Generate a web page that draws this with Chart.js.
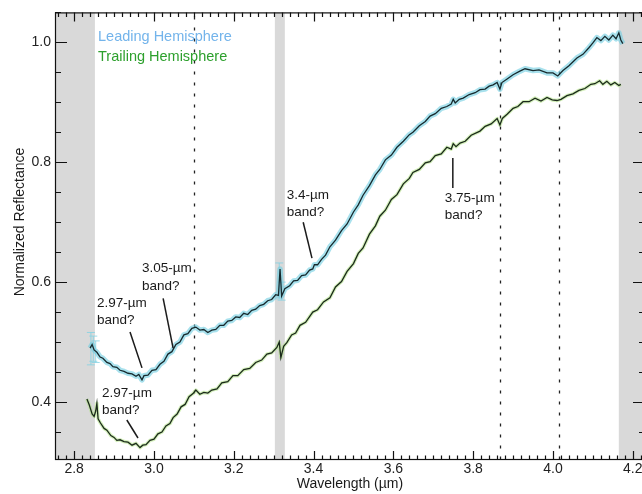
<!DOCTYPE html>
<html>
<head>
<meta charset="utf-8">
<script src="https://cdn.jsdelivr.net/npm/chart.js@4/dist/chart.umd.min.js"></script>
<style>
html,body{margin:0;padding:0;background:#fff;overflow:hidden;width:642px;height:494px;}
#wrap{position:absolute;left:0;top:0;width:646px;height:494px;}
</style>
</head>
<body>
<div id="wrap"><canvas id="c" width="646" height="494"></canvas></div>
<script>
// ---------------- data ----------------
const seriesNames = ['Leading Hemisphere', 'Trailing Hemisphere'];

const leadWl = [2.840,2.845,2.850,2.857,2.865,2.872,2.882,2.890,2.897,2.907,2.915,2.925,2.935,2.945,2.955,2.962,2.970,2.975,2.985,2.995,
3.005,3.015,3.025,3.035,3.045,3.055,3.065,3.075,3.085,3.095,3.105,3.115,3.125,3.135,3.145,3.155,3.165,3.175,3.185,3.195,
3.205,3.215,3.225,3.235,3.245,3.255,3.265,3.275,3.285,3.295,3.305,3.312,3.316,3.320,3.328,3.340,3.350,3.360,3.370,3.380,
3.390,3.398,3.402,3.410,3.420,3.430,3.441,3.455,3.470,3.484,3.500,3.512,3.524,3.540,3.555,3.566,3.580,3.595,3.609,3.625,
3.640,3.649,3.665,3.680,3.692,3.705,3.720,3.734,3.745,3.750,3.755,3.765,3.775,3.790,3.805,3.817,3.830,3.840,3.850,3.860,
3.867,3.872,3.885,3.900,3.917,3.930,3.950,3.965,3.985,4.000,4.012,4.025,4.040,4.060,4.075,4.090,4.100,4.110,4.120,4.130,
4.140,4.150,4.158,4.165,4.170,4.175];
const leadVal = [0.490,0.496,0.487,0.483,0.475,0.473,0.466,0.464,0.459,0.458,0.453,0.451,0.448,0.447,0.443,0.446,0.437,0.444,0.445,0.453,
0.454,0.463,0.468,0.480,0.484,0.496,0.500,0.512,0.514,0.523,0.525,0.520,0.521,0.516,0.520,0.521,0.528,0.528,0.535,0.536,
0.542,0.541,0.548,0.546,0.553,0.555,0.561,0.563,0.569,0.571,0.579,0.578,0.622,0.577,0.589,0.594,0.602,0.603,0.611,0.612,
0.620,0.622,0.629,0.629,0.638,0.645,0.659,0.670,0.686,0.697,0.717,0.729,0.745,0.761,0.779,0.788,0.804,0.812,0.825,0.835,
0.846,0.850,0.861,0.868,0.877,0.881,0.890,0.893,0.897,0.905,0.899,0.905,0.907,0.913,0.916,0.921,0.922,0.927,0.929,0.933,
0.922,0.933,0.939,0.946,0.952,0.956,0.953,0.954,0.949,0.949,0.944,0.953,0.961,0.974,0.980,0.991,0.999,1.008,1.003,1.010,
1.004,1.012,1.006,1.016,1.004,0.998];

const trailWl = [2.832,2.838,2.845,2.850,2.854,2.857,2.860,2.866,2.875,2.882,2.892,2.900,2.907,2.915,2.925,2.935,2.945,2.955,2.965,2.972,
2.980,2.990,3.000,3.010,3.020,3.030,3.040,3.048,3.058,3.068,3.078,3.088,3.098,3.105,3.115,3.125,3.135,3.145,3.158,3.170,
3.185,3.198,3.210,3.225,3.240,3.255,3.270,3.283,3.295,3.308,3.314,3.318,3.325,3.333,3.345,3.355,3.366,3.380,3.398,3.410,
3.425,3.441,3.455,3.470,3.484,3.500,3.512,3.524,3.540,3.555,3.566,3.580,3.595,3.609,3.625,3.640,3.649,3.665,3.680,3.692,
3.705,3.720,3.734,3.745,3.750,3.757,3.767,3.780,3.795,3.817,3.830,3.845,3.860,3.867,3.873,3.885,3.900,3.912,3.925,3.940,
3.955,3.970,3.985,3.998,4.010,4.020,4.035,4.050,4.065,4.080,4.095,4.105,4.117,4.125,4.135,4.145,4.155,4.165,4.170];
const trailVal = [0.405,0.395,0.380,0.376,0.385,0.398,0.372,0.365,0.356,0.353,0.344,0.341,0.336,0.337,0.334,0.333,0.328,0.331,0.324,0.328,
0.329,0.336,0.338,0.347,0.350,0.360,0.364,0.374,0.380,0.392,0.396,0.409,0.414,0.420,0.413,0.416,0.415,0.420,0.422,0.432,
0.434,0.444,0.444,0.454,0.456,0.466,0.470,0.480,0.482,0.491,0.500,0.474,0.493,0.499,0.512,0.515,0.528,0.533,0.550,0.554,
0.567,0.574,0.592,0.601,0.618,0.631,0.648,0.657,0.680,0.694,0.710,0.720,0.738,0.746,0.764,0.773,0.783,0.788,0.799,0.801,
0.811,0.814,0.825,0.822,0.831,0.826,0.832,0.835,0.845,0.852,0.860,0.864,0.873,0.862,0.873,0.880,0.890,0.893,0.901,0.901,
0.907,0.902,0.908,0.904,0.903,0.905,0.911,0.914,0.920,0.923,0.930,0.931,0.936,0.930,0.935,0.929,0.933,0.928,0.930];

// error bars near the start of the leading spectrum and at the 3.32 spike
const errWl = [2.842, 2.848, 2.854, 3.314, 3.320];
const errLo = [0.462, 0.468, 0.466, 0.572, 0.570];
const errHi = [0.516, 0.510, 0.502, 0.632, 0.600];

// axis ticks
const xTickVals = [2.8, 3.0, 3.2, 3.4, 3.6, 3.8, 4.0, 4.2];
const yTickVals = [0.4, 0.6, 0.8, 1.0];

// masked (gray) wavelength regions and dotted reference lines
const bandStart = [2.70, 3.303, 4.165];
const bandEnd   = [2.852, 3.328, 4.30];
const refLines  = [3.10, 3.867, 4.015];

// annotation labels
const noteText = [['2.97-\u00b5m','band?'], ['3.05-\u00b5m','band?'], ['2.97-\u00b5m','band?'], ['3.4-\u00b5m','band?'], ['3.75-\u00b5m','band?']];
const noteX    = [2.857, 2.970, 2.870, 3.333, 3.729];
const noteY    = [0.565, 0.623, 0.415, 0.745, 0.740];
const noteLine = [[2.940,0.517,2.970,0.457],[3.023,0.573,3.048,0.490],[2.932,0.370,2.960,0.340],[3.374,0.700,3.396,0.640],[3.749,0.807,3.749,0.757]];

const xAxisTitle = 'Wavelength (\u00b5m)';
const yAxisTitle = 'Normalized Reflectance';

// ---------------- chart ----------------
const FONT = "'Liberation Sans', Arial, Helvetica, sans-serif";
const toPts = (xs, ys) => xs.map((x, i) => ({x: x, y: ys[i]}));

const decor = {
  id: 'decor',
  beforeDatasetsDraw(chart) {
    const {ctx, chartArea: a, scales: {x, y}} = chart;
    ctx.save();
    ctx.beginPath(); ctx.rect(a.left, a.top, a.right - a.left, a.bottom - a.top); ctx.clip();
    ctx.fillStyle = '#d9d9d9';
    bandStart.forEach((s, i) => {
      const x0 = x.getPixelForValue(s), x1 = x.getPixelForValue(bandEnd[i]);
      ctx.fillRect(x0, a.top, x1 - x0, a.bottom - a.top);
    });
    ctx.strokeStyle = '#222'; ctx.lineWidth = 1.3; ctx.setLineDash([3, 8]);
    refLines.forEach(v => {
      const px = Math.round(x.getPixelForValue(v)) + 0.5;
      ctx.beginPath(); ctx.moveTo(px, a.top + 4); ctx.lineTo(px, a.bottom); ctx.stroke();
    });
    ctx.setLineDash([]);
    // error bars
    ctx.strokeStyle = 'rgba(130,210,228,0.8)'; ctx.lineWidth = 1;
    errWl.forEach((w, i) => {
      const px = x.getPixelForValue(w), p0 = y.getPixelForValue(errLo[i]), p1 = y.getPixelForValue(errHi[i]);
      ctx.beginPath(); ctx.moveTo(px, p0); ctx.lineTo(px, p1);
      ctx.moveTo(px - 4, p0); ctx.lineTo(px + 4, p0);
      ctx.moveTo(px - 4, p1); ctx.lineTo(px + 4, p1);
      ctx.stroke();
    });
    ctx.restore();
  },
  afterDatasetsDraw(chart) {
    const {ctx, chartArea: a, scales: {x, y}} = chart;
    ctx.save();
    // frame
    ctx.strokeStyle = '#111'; ctx.lineWidth = 1.2;
    ctx.strokeRect(a.left + 0.5, a.top + 0.5, a.right - a.left - 1, a.bottom - a.top - 1);
    // x ticks (bottom & top, inward)
    ctx.beginPath();
    for (let k = 138; k <= 211; k++) {
      const v = k / 50;
      const px = Math.round(x.getPixelForValue(v)) + 0.5;
      if (px < a.left || px > a.right) continue;
      const major = xTickVals.some(t => Math.abs(t - v) < 1e-6);
      const L = major ? 9 : 4.5;
      ctx.moveTo(px, a.bottom); ctx.lineTo(px, a.bottom - L);
      ctx.moveTo(px, a.top); ctx.lineTo(px, a.top + L);
    }
    // y ticks (left & right, inward)
    for (let k = 7; k <= 21; k++) {
      const v = k / 20;
      const py = Math.round(y.getPixelForValue(v)) + 0.5;
      if (py < a.top || py > a.bottom) continue;
      const major = yTickVals.some(t => Math.abs(t - v) < 1e-6);
      const L = major ? 12 : 6;
      ctx.moveTo(a.left, py); ctx.lineTo(a.left + L, py);
      ctx.moveTo(a.right, py); ctx.lineTo(a.right - L, py);
    }
    ctx.stroke();
    // legend
    ctx.font = '14.5px ' + FONT; ctx.textBaseline = 'middle'; ctx.textAlign = 'left';
    ctx.fillStyle = 'rgb(115,180,235)'; ctx.fillText(seriesNames[0], 98, 37);
    ctx.fillStyle = 'rgb(45,160,45)'; ctx.fillText(seriesNames[1], 98, 57);
    // annotations
    ctx.fillStyle = '#1a1a1a'; ctx.strokeStyle = '#1a1a1a'; ctx.lineWidth = 1.5;
    ctx.font = '13.5px ' + FONT;
    noteText.forEach((lines, i) => {
      const px = x.getPixelForValue(noteX[i]), py = y.getPixelForValue(noteY[i]);
      lines.forEach((t, j) => ctx.fillText(t, px, py + j * 17.5));
      const l = noteLine[i];
      ctx.beginPath();
      ctx.moveTo(x.getPixelForValue(l[0]), y.getPixelForValue(l[1]));
      ctx.lineTo(x.getPixelForValue(l[2]), y.getPixelForValue(l[3]));
      ctx.stroke();
    });
    // axis titles
    ctx.fillStyle = '#1a1a1a'; ctx.font = '14px ' + FONT; ctx.textAlign = 'center';
    ctx.fillText(xAxisTitle, 350, 484);
    ctx.translate(20, 222); ctx.rotate(-Math.PI / 2);
    ctx.fillText(yAxisTitle, 0, 0);
    ctx.restore();
  }
};

new Chart(document.getElementById('c'), {
  type: 'scatter',
  data: {
    datasets: [
      {label: seriesNames[0], order: 0, data: toPts(leadWl, leadVal), showLine: true, borderColor: '#172a2e', borderWidth: 1.3, pointRadius: 0},
      {label: seriesNames[1], order: 0, data: toPts(trailWl, trailVal), showLine: true, borderColor: '#1b2a1b', borderWidth: 1.3, pointRadius: 0},
      {label: seriesNames[0] + ' error', order: 1, data: toPts(leadWl, leadVal), showLine: true, borderColor: 'rgba(110,205,225,0.6)', borderWidth: 5.5, pointRadius: 0, borderJoinStyle: 'round'},
      {label: seriesNames[1] + ' error', order: 1, data: toPts(trailWl, trailVal), showLine: true, borderColor: 'rgba(175,225,130,0.55)', borderWidth: 3.5, pointRadius: 0, borderJoinStyle: 'round'}
    ]
  },
  options: {
    responsive: false,
    animation: false,
    devicePixelRatio: 1,
    layout: {padding: {top: 12, right: 1, left: 0, bottom: 0}},
    plugins: {legend: {display: false}, tooltip: {enabled: false}},
    scales: {
      x: {
        type: 'linear', min: 2.752, max: 4.2306,
        afterBuildTicks: s => { s.ticks = xTickVals.map(v => ({value: v})); },
        afterFit: s => { s.height = 34; },
        grid: {display: false, drawTicks: false}, border: {display: false},
        ticks: {callback: v => v.toFixed(1), font: {size: 14, family: FONT}, color: '#222', padding: 1, maxRotation: 0, autoSkip: false}
      },
      y: {
        type: 'linear', min: 0.3033, max: 1.05,
        afterBuildTicks: s => { s.ticks = yTickVals.map(v => ({value: v})); },
        afterFit: s => { s.width = 55; },
        grid: {display: false, drawTicks: false}, border: {display: false},
        ticks: {callback: v => v.toFixed(1), font: {size: 14, family: FONT}, color: '#222', padding: 4}
      }
    }
  },
  plugins: [decor]
});
</script>
</body>
</html>
